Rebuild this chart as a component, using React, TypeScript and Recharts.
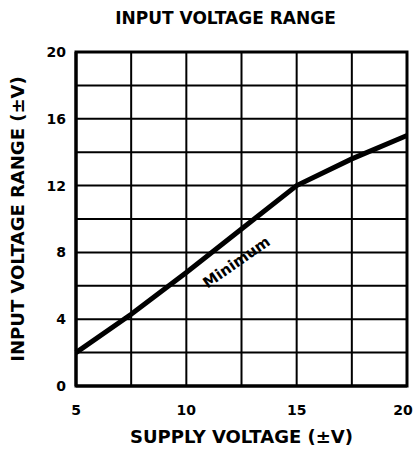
import React from 'react';
import {
  LineChart,
  Line,
  XAxis,
  YAxis,
  CartesianGrid,
  ReferenceArea,
  ReferenceDot,
  Label,
} from 'recharts';

// supply voltage (±V) vs minimum input voltage range (±V)
const supplyVoltage = [5, 7.5, 10, 12.5, 15, 17.5, 20];
const inputRange = [2, 4.3, 6.8, 9.4, 12, 13.6, 15];

const xGridTicks = [5, 7.5, 10, 12.5, 15, 17.5, 20];
const yGridTicks = [0, 2, 4, 6, 8, 10, 12, 14, 16, 18, 20];
const xLabelTicks = [5, 10, 15, 20];
const yLabelTicks = [0, 4, 8, 12, 16, 20];

const data = supplyVoltage.map((x, i) => ({ x, y: inputRange[i] }));

const FONT = '"DejaVu Sans", sans-serif';
const tickStyle = { fill: '#000', fontSize: 14, fontWeight: 'bold', fontFamily: FONT };

const XTick = ({ x, y, payload }: any) => {
  if (!xLabelTicks.includes(payload.value)) return null;
  // keep the last label inside the page edge
  const shift = payload.value === 20 ? -4 : 0;
  return (
    <text x={x + shift} y={y + 16} textAnchor="middle" dominantBaseline="central" {...tickStyle}>
      {payload.value}
    </text>
  );
};

const MinimumLabel = ({ viewBox }: any) => {
  const cx = viewBox.x + viewBox.width / 2;
  const cy = viewBox.y + viewBox.height / 2;
  return (
    <text
      x={cx}
      y={cy}
      transform={`rotate(-35 ${cx} ${cy})`}
      textAnchor="middle"
      dominantBaseline="central"
      fontFamily={FONT}
      fontWeight="bold"
      fontSize={15}
      fill="#000"
    >
      Minimum
    </text>
  );
};

const YTitle = ({ viewBox }: any) => {
  const cx = viewBox.x + 17;
  const cy = viewBox.y + viewBox.height / 2;
  return (
    <text
      x={cx}
      y={cy}
      transform={`rotate(-90 ${cx} ${cy})`}
      textAnchor="middle"
      dominantBaseline="central"
      fontFamily={FONT}
      fontWeight="bold"
      fontSize={18}
      fill="#000"
    >
      INPUT VOLTAGE RANGE (±V)
    </text>
  );
};

const App = () => {
  return (
    <div style={{ position: 'absolute', left: 0, top: 0, width: 415, height: 451, background: '#fff' }}>
      <div
        style={{
          position: 'absolute',
          top: 7,
          left: 36,
          width: 379,
          textAlign: 'center',
          fontFamily: FONT,
          fontWeight: 'bold',
          fontSize: 17,
          lineHeight: '22px',
          color: '#000',
        }}
      >
        INPUT VOLTAGE RANGE
      </div>
      <LineChart width={415} height={451} data={data} margin={{ top: 52, right: 8, bottom: 0, left: 0 }}>
        <CartesianGrid stroke="#000" strokeWidth={2} />
        <XAxis
          type="number"
          dataKey="x"
          domain={[5, 20]}
          ticks={xGridTicks}
          tickLine={false}
          axisLine={{ stroke: '#000', strokeWidth: 3 }}
          tick={<XTick />}
          height={65}
          interval={0}
        >
          <Label
            value="SUPPLY VOLTAGE (±V)"
            position="insideBottom"
            offset={8}
            style={{ fill: '#000', fontSize: 18, fontWeight: 'bold', fontFamily: FONT }}
          />
        </XAxis>
        <YAxis
          type="number"
          domain={[0, 20]}
          ticks={yGridTicks}
          tickFormatter={(v) => (yLabelTicks.includes(v) ? String(v) : '')}
          tickLine={false}
          tickMargin={4}
          axisLine={{ stroke: '#000', strokeWidth: 3 }}
          tick={tickStyle}
          width={76}
          interval={0}
        >
          <Label content={<YTitle />} />
        </YAxis>
        <ReferenceArea x1={5} x2={20} y1={0} y2={20} fill="none" stroke="#000" strokeWidth={3} />
        <Line
          type="linear"
          dataKey="y"
          stroke="#000"
          strokeWidth={5}
          dot={false}
          isAnimationActive={false}
        />
        <ReferenceDot x={12.28} y={7.41} r={1} fill="none" stroke="none" label={<MinimumLabel />} />
      </LineChart>
    </div>
  );
};

export default App;
